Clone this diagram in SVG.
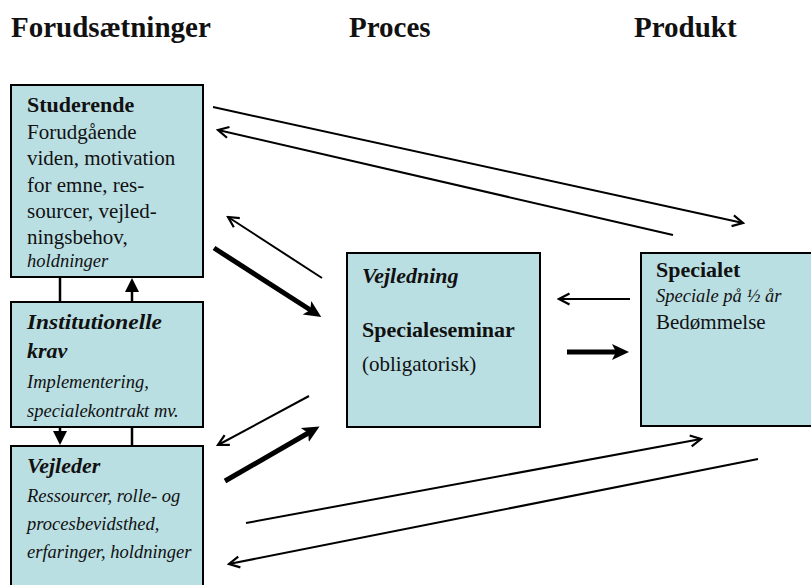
<svg xmlns="http://www.w3.org/2000/svg" width="811" height="585" viewBox="0 0 811 585">
<style>
.box{fill:#badfe3;stroke:#000;stroke-width:2}
text{font-family:"Liberation Serif","Times New Roman",serif;fill:#111}
.h{font-size:29px;font-weight:bold}
.b{font-size:22px;font-weight:bold}
.bi{font-size:22px;font-weight:bold;font-style:italic}
.r{font-size:21px}
.i{font-size:18.5px;font-style:italic}
.thin{stroke:#000;stroke-width:2;fill:none;marker-end:url(#open)}
.thick{stroke:#000;stroke-width:5;fill:none;marker-end:url(#solid)}
.v{stroke:#000;stroke-width:2.5;fill:none}
.va{stroke:#000;stroke-width:2.5;fill:none;marker-end:url(#tri)}
</style>
<defs>
<marker id="open" markerUnits="userSpaceOnUse" viewBox="0 0 14 14" markerWidth="14" markerHeight="14" refX="12" refY="7" orient="auto">
<path d="M1.5,1.5 L12,7 L1.5,12.5" fill="none" stroke="#000" stroke-width="2.2" stroke-linejoin="miter"/>
</marker>
<marker id="solid" markerUnits="userSpaceOnUse" viewBox="0 0 18 18" markerWidth="18" markerHeight="18" refX="6" refY="9" orient="auto">
<path d="M0,1 L17,9 L0,17 L4,9 z" fill="#000"/>
</marker>
<marker id="tri" markerUnits="userSpaceOnUse" viewBox="0 0 14 14" markerWidth="14" markerHeight="14" refX="1" refY="7" orient="auto">
<path d="M0,0 L14,7 L0,14 z" fill="#000"/>
</marker>
</defs>

<g id="headings">
<text class="h" x="11" y="37">Forudsætninger</text>
<text class="h" x="349" y="37">Proces</text>
<text class="h" x="634" y="37">Produkt</text>
</g>

<g id="studerende">
<rect class="box" x="11" y="85" width="192" height="192"/>
<text class="b" x="27" y="112">Studerende</text>
<text class="r" x="27" y="139">Forudgående</text>
<text class="r" x="27" y="165">viden, motivation</text>
<text class="r" x="27" y="192">for emne, res-</text>
<text class="r" x="27" y="218">sourcer, vejled-</text>
<text class="r" x="27" y="244">ningsbehov,</text>
<text class="i" x="27" y="267">holdninger</text>
</g>

<g id="institutionelle">
<rect class="box" x="11" y="302" width="192" height="125"/>
<text class="bi" x="27" y="329" textLength="135" lengthAdjust="spacingAndGlyphs">Institutionelle</text>
<text class="bi" x="27" y="358">krav</text>
<text class="i" x="27" y="388">Implementering,</text>
<text class="i" x="27" y="417">specialekontrakt mv.</text>
</g>

<g id="vejleder">
<rect class="box" x="11" y="446" width="192" height="150"/>
<text class="bi" x="27" y="473">Vejleder</text>
<text class="i" x="27" y="502">Ressourcer, rolle- og</text>
<text class="i" x="27" y="530">procesbevidsthed,</text>
<text class="i" x="27" y="558">erfaringer, holdninger</text>
</g>

<g id="vejledning">
<rect class="box" x="347" y="253" width="193" height="174"/>
<text class="bi" x="362" y="283">Vejledning</text>
<text class="b" x="362" y="337">Specialeseminar</text>
<text class="r" x="362" y="371">(obligatorisk)</text>
</g>

<g id="specialet">
<rect class="box" x="641" y="253" width="180" height="173"/>
<text class="b" x="656" y="277">Specialet</text>
<text class="i" x="656" y="302">Speciale på ½ år</text>
<text class="r" x="656" y="329">Bedømmelse</text>
</g>

<g id="connectors">
<line class="thin" x1="213" y1="107" x2="743" y2="223"/>
<line class="thin" x1="673" y1="235" x2="218" y2="130"/>
<line class="thin" x1="322" y1="278" x2="228" y2="217"/>
<line class="thin" x1="630" y1="299" x2="559" y2="299"/>
<line class="thin" x1="309" y1="396" x2="218" y2="445"/>
<line class="thin" x1="246" y1="523" x2="701" y2="439"/>
<line class="thin" x1="758" y1="459" x2="229" y2="564"/>
<line class="thick" x1="214" y1="248" x2="312" y2="311"/>
<line class="thick" x1="225" y1="481" x2="310" y2="432"/>
<line class="thick" x1="567" y1="352" x2="618" y2="352"/>
<line class="v" x1="60" y1="277" x2="60" y2="302"/>
<line class="va" x1="132" y1="302" x2="132" y2="291"/>
<line class="va" x1="60" y1="427" x2="60" y2="432"/>
<line class="v" x1="132" y1="427" x2="132" y2="446"/>
</g>
</svg>
